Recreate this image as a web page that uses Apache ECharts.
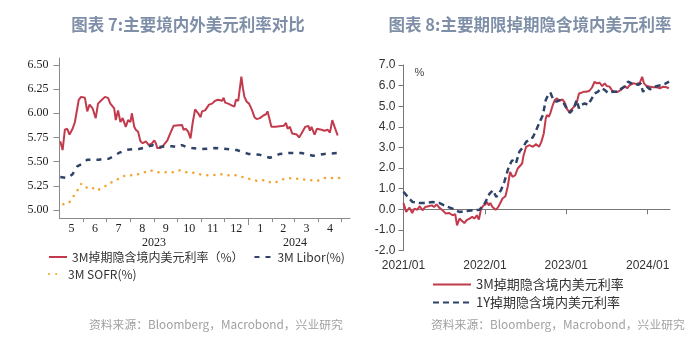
<!DOCTYPE html>
<html><head><meta charset="utf-8">
<script src="https://cdn.jsdelivr.net/npm/echarts@6/dist/echarts.min.js"></script>
<style>html,body{margin:0;padding:0;background:#fff}#c{width:700px;height:340px}</style>
</head><body><div id="c"></div>
<script>
// ---------- Left chart (图表 7) ----------
const L_MONTHS = ['2023-05','2023-06','2023-07','2023-08','2023-09','2023-10','2023-11','2023-12','2024-01','2024-02','2024-03','2024-04','2024-05'];
const L_MONTH_LABELS = ['5','6','7','8','9','10','11','12','1','2','3','4'];
const L_YEAR_LABELS = ['2023','2024'];
const L_Y_TICKS = [5.00,5.25,5.50,5.75,6.00,6.25,6.50];

const L_3M_DATES = ['2023-05-02','2023-05-05','2023-05-08','2023-05-11','2023-05-14','2023-05-18','2023-05-21','2023-05-26','2023-05-29','2023-06-03','2023-06-06','2023-06-09','2023-06-13','2023-06-17','2023-06-20','2023-06-25','2023-06-29','2023-07-03','2023-07-06','2023-07-11','2023-07-13','2023-07-16','2023-07-19','2023-07-22','2023-07-26','2023-07-29','2023-08-01','2023-08-03','2023-08-06','2023-08-08','2023-08-11','2023-08-14','2023-08-17','2023-08-21','2023-08-25','2023-08-29','2023-09-01','2023-09-03','2023-09-05','2023-09-09','2023-09-13','2023-09-18','2023-09-21','2023-09-23','2023-09-26','2023-10-07','2023-10-09','2023-10-12','2023-10-15','2023-10-18','2023-10-21','2023-10-24','2023-10-28','2023-10-31','2023-11-02','2023-11-06','2023-11-11','2023-11-15','2023-11-19','2023-11-23','2023-11-28','2023-11-30','2023-12-02','2023-12-06','2023-12-11','2023-12-14','2023-12-16','2023-12-19','2023-12-23','2023-12-25','2023-12-27','2023-12-30','2024-01-02','2024-01-06','2024-01-09','2024-01-12','2024-01-16','2024-01-21','2024-01-24','2024-01-26','2024-01-28','2024-01-31','2024-02-05','2024-02-16','2024-02-19','2024-02-21','2024-02-24','2024-02-27','2024-03-04','2024-03-07','2024-03-10','2024-03-15','2024-03-19','2024-03-21','2024-03-23','2024-03-27','2024-03-30','2024-04-05','2024-04-09','2024-04-13','2024-04-16','2024-04-19','2024-04-22','2024-04-26'];
const L_3M_VALUES = [5.71,5.62,5.83,5.84,5.78,5.84,5.91,6.14,6.17,6.16,6.02,6.09,6.05,5.95,6.10,6.14,6.17,6.16,6.10,6.05,5.93,6.03,5.91,5.95,5.86,5.93,5.91,6.00,5.86,5.83,5.81,5.71,5.69,5.71,5.67,5.69,5.72,5.69,5.64,5.64,5.67,5.72,5.78,5.76,5.87,5.88,5.83,5.84,5.81,5.74,5.91,6.04,6.00,5.96,6.02,6.03,6.09,6.10,6.13,6.14,6.13,6.16,6.11,6.10,6.08,6.07,6.14,6.13,6.38,6.26,6.17,6.12,6.10,6.03,5.96,5.94,5.95,5.98,5.99,6.02,6.00,5.86,5.86,5.87,5.90,5.84,5.86,5.79,5.78,5.75,5.79,5.86,5.87,5.82,5.86,5.78,5.84,5.83,5.82,5.83,5.80,5.93,5.86,5.77];

const L_LIBOR_DATES = ['2023-05-02','2023-05-11','2023-05-18','2023-05-24','2023-05-31','2023-06-06','2023-06-15','2023-06-21','2023-06-28','2023-07-04','2023-07-11','2023-07-17','2023-07-26','2023-08-04','2023-08-12','2023-08-21','2023-08-30','2023-09-07','2023-09-16','2023-09-24','2023-10-01','2023-10-07','2023-10-13','2023-10-20','2023-11-02','2023-11-19','2023-12-04','2023-12-17','2024-01-01','2024-01-16','2024-01-29','2024-02-11','2024-02-24','2024-03-10','2024-03-25','2024-04-09','2024-04-28'];
const L_LIBOR_VALUES = [5.34,5.33,5.37,5.45,5.48,5.52,5.52,5.52,5.53,5.53,5.56,5.59,5.62,5.63,5.63,5.65,5.67,5.65,5.66,5.66,5.65,5.67,5.65,5.64,5.63,5.64,5.63,5.62,5.58,5.57,5.54,5.58,5.59,5.59,5.56,5.58,5.59];

const L_SOFR_DATES = ['2023-05-06','2023-05-13','2023-05-19','2023-05-24','2023-05-29','2023-06-03','2023-06-11','2023-06-18','2023-06-28','2023-07-06','2023-07-16','2023-07-26','2023-08-06','2023-08-16','2023-08-26','2023-09-05','2023-09-16','2023-09-25','2023-10-04','2023-10-11','2023-10-19','2023-10-29','2023-11-07','2023-11-17','2023-11-26','2023-12-06','2023-12-15','2023-12-25','2024-01-03','2024-01-13','2024-01-24','2024-01-31','2024-02-07','2024-02-16','2024-02-26','2024-03-08','2024-03-19','2024-03-30','2024-04-09','2024-04-18','2024-04-30'];
const L_SOFR_VALUES = [5.06,5.07,5.14,5.20,5.27,5.23,5.24,5.20,5.24,5.28,5.32,5.36,5.36,5.38,5.41,5.39,5.39,5.39,5.41,5.39,5.39,5.37,5.36,5.36,5.37,5.36,5.36,5.34,5.32,5.30,5.31,5.28,5.29,5.32,5.33,5.32,5.31,5.30,5.33,5.33,5.33];

// ---------- Right chart (图表 8) ----------
const R_YEAR_TICKS = ['2021-01-01','2022-01-01','2023-01-01','2024-01-01'];
const R_YEAR_LABELS = ['2021/01','2022/01','2023/01','2024/01'];

const R_3M_DATES = ['2021-01-01','2021-01-05','2021-01-13','2021-01-28','2021-02-09','2021-02-19','2021-03-04','2021-03-15','2021-03-27','2021-04-08','2021-04-23','2021-05-08','2021-05-18','2021-05-29','2021-06-10','2021-06-25','2021-07-10','2021-07-25','2021-08-09','2021-08-21','2021-08-29','2021-09-09','2021-09-21','2021-10-01','2021-10-11','2021-10-24','2021-11-05','2021-11-15','2021-11-26','2021-12-05','2021-12-15','2021-12-26','2022-01-04','2022-01-10','2022-01-19','2022-01-25','2022-02-04','2022-02-09','2022-02-18','2022-02-28','2022-03-10','2022-03-21','2022-04-03','2022-04-13','2022-04-24','2022-05-05','2022-05-17','2022-05-28','2022-06-05','2022-06-17','2022-06-23','2022-07-05','2022-07-20','2022-08-04','2022-08-19','2022-09-01','2022-09-11','2022-09-22','2022-10-01','2022-10-06','2022-10-15','2022-10-22','2022-10-31','2022-11-10','2022-11-20','2022-12-02','2022-12-14','2022-12-25','2023-01-05','2023-01-14','2023-01-25','2023-02-04','2023-02-16','2023-02-27','2023-03-09','2023-03-19','2023-04-01','2023-04-15','2023-04-27','2023-05-08','2023-05-18','2023-05-30','2023-06-11','2023-06-22','2023-07-02','2023-07-14','2023-07-26','2023-08-06','2023-08-21','2023-09-06','2023-09-20','2023-10-01','2023-10-13','2023-10-28','2023-11-12','2023-11-27','2023-12-07','2023-12-15','2023-12-27','2024-01-11','2024-01-26','2024-02-10','2024-02-25','2024-03-10','2024-03-25','2024-04-05'];
const R_3M_VALUES = [0.30,0.28,-0.13,0.08,-0.18,0.03,-0.02,0.15,-0.05,0.11,0.15,0.19,0.11,0.24,0.08,-0.05,-0.21,-0.18,-0.29,-0.24,-0.78,-0.45,-0.57,-0.67,-0.53,-0.45,-0.37,-0.45,-0.29,-0.50,0.03,0.19,0.24,0.35,0.19,0.31,0.11,0.19,-0.02,0.08,0.28,0.52,0.63,1.08,1.81,1.57,1.65,1.98,2.06,2.22,2.60,3.03,3.11,3.03,3.16,3.03,3.27,3.68,4.41,4.57,4.49,4.68,5.01,5.30,5.38,5.26,5.33,5.17,4.85,4.73,4.85,4.97,5.14,5.62,5.65,5.70,5.70,5.75,5.92,6.19,6.11,6.14,5.98,6.11,5.98,5.95,5.75,5.70,5.70,5.82,5.98,5.87,6.03,6.11,6.08,6.14,6.43,6.11,5.98,5.95,5.92,5.92,5.87,5.95,5.92,5.87];

const R_1Y_DATES = ['2021-01-01','2021-01-05','2021-01-20','2021-02-11','2021-03-11','2021-04-11','2021-05-10','2021-06-10','2021-07-10','2021-08-09','2021-09-09','2021-10-09','2021-11-08','2021-12-08','2021-12-31','2022-01-22','2022-02-06','2022-02-21','2022-03-14','2022-03-29','2022-04-18','2022-05-03','2022-05-20','2022-06-05','2022-06-20','2022-07-05','2022-07-12','2022-07-20','2022-08-04','2022-08-19','2022-09-04','2022-09-18','2022-10-01','2022-10-11','2022-10-22','2022-11-03','2022-11-18','2022-12-02','2022-12-17','2023-01-02','2023-01-17','2023-02-04','2023-02-16','2023-02-27','2023-03-09','2023-03-24','2023-04-08','2023-04-23','2023-05-08','2023-05-22','2023-06-07','2023-06-22','2023-07-06','2023-07-29','2023-08-21','2023-09-06','2023-09-20','2023-10-05','2023-10-20','2023-11-04','2023-11-19','2023-11-30','2023-12-11','2023-12-27','2024-01-11','2024-01-26','2024-02-13','2024-03-03','2024-03-18','2024-04-06'];
const R_1Y_VALUES = [0.85,0.79,0.60,0.35,0.31,0.31,0.35,0.31,0.15,0.03,-0.13,-0.08,-0.05,-0.02,0.28,0.76,0.92,0.60,0.92,1.33,2.06,2.38,2.22,2.80,3.00,3.27,3.35,3.39,3.49,3.84,4.24,4.57,5.30,5.54,5.65,5.33,5.22,5.30,5.22,4.90,4.68,4.90,5.30,4.90,5.06,5.14,5.06,5.33,5.62,5.70,5.87,5.79,5.65,5.70,5.70,5.87,5.95,6.19,6.11,6.11,6.03,6.11,5.70,5.95,5.82,5.92,5.98,6.03,6.08,6.19];

const NAMES = {
  l3m: '3M掉期隐含境内美元利率（%）', libor: '3M Libor(%)', sofr: '3M SOFR(%)',
  r3m: '3M掉期隐含境内美元利率', r1y: '1Y掉期隐含境内美元利率'
};

function ts(s) { const p = s.split('-').map(Number); return new Date(p[0], p[1] - 1, p[2] || 1).getTime(); }
function pairs(d, v) { return d.map((x, i) => [ts(x), v[i]]); }

const monthStarts = L_MONTHS.map(ts);
const monthMids = L_MONTH_LABELS.map((_, i) => (monthStarts[i] + monthStarts[i + 1]) / 2);
const yearBoundary = ts('2024-01-01');
const yearMids = [(monthStarts[0] + yearBoundary) / 2, (yearBoundary + monthStarts[12]) / 2];
const rYearTicks = R_YEAR_TICKS.map(ts);
const labelOf = (vals, labels) => v => { let best = 0, bd = Infinity; vals.forEach((x, i) => { const d = Math.abs(x - v); if (d < bd) { bd = d; best = i; } }); return labels[best]; };

const serif = 'Liberation Serif';
const cjk = 'Noto Sans CJK SC';
const RED = '#c23a4c', NAVY = '#2f4368', ORANGE = '#f2a431';
const AX = '#8a8a8a';
const legendText = { fontFamily: cjk, fontSize: 12, color: '#333' };

const chart = echarts.init(document.getElementById('c'), null, { renderer: 'canvas' });
chart.setOption({
  animation: false,
  backgroundColor: '#fff',
  title: [
    { text: '图表 7:主要境内外美元利率对比', left: 183, top: 11, textAlign: 'center',
      textStyle: { fontFamily: cjk, fontSize: 16.5, fontWeight: 'bold', color: '#7f8fa8' } },
    { text: '图表 8:主要期限掉期隐含境内美元利率', left: 525, top: 11, textAlign: 'center',
      textStyle: { fontFamily: cjk, fontSize: 16.5, fontWeight: 'bold', color: '#7f8fa8' } },
    { text: '资料来源：Bloomberg，Macrobond，兴业研究', left: 84, top: 314,
      textStyle: { fontFamily: cjk, fontSize: 11.8, fontWeight: 'normal', color: '#a0a0a0' } },
    { text: '资料来源：Bloomberg，Macrobond，兴业研究', left: 426, top: 314,
      textStyle: { fontFamily: cjk, fontSize: 11.8, fontWeight: 'normal', color: '#a0a0a0' } }
  ],
  legend: [
    { data: [NAMES.l3m, NAMES.libor], left: 48, top: 251, padding: 0, itemWidth: 18, itemHeight: 10, itemGap: 10,
      itemStyle: { opacity: 0 }, textStyle: legendText },
    { data: [NAMES.sofr], left: 48, top: 268, padding: 0, itemWidth: 14, itemHeight: 10,
      itemStyle: { opacity: 0 }, textStyle: legendText },
    { data: [NAMES.r3m, NAMES.r1y], orient: 'vertical', left: 432, top: 278, padding: 0, itemWidth: 38, itemHeight: 12, itemGap: 5,
      itemStyle: { opacity: 0 }, textStyle: { fontFamily: cjk, fontSize: 13, color: '#333' } }
  ],
  grid: [
    { left: 59.5, width: 290.5, top: 58, height: 160 },
    { left: 403.5, width: 266.5, top: 65, height: 185.5 }
  ],
  xAxis: [
    { type: 'value', gridIndex: 0, position: 'bottom', min: ts('2023-05-01'), max: ts('2024-05-12'),
      axisLine: { show: true, onZero: false, lineStyle: { color: AX, width: 1 } },
      axisTick: { show: true, customValues: monthStarts.slice(1, 13), length: 4, lineStyle: { color: AX } },
      axisLabel: { customValues: monthMids, formatter: labelOf(monthMids, L_MONTH_LABELS), margin: 5,
        fontFamily: serif, fontSize: 12, color: '#222' },
      splitLine: { show: false } },
    { type: 'value', gridIndex: 0, position: 'bottom', min: ts('2023-05-01'), max: ts('2024-05-12'),
      axisLine: { show: false, onZero: false },
      axisTick: { show: true, customValues: [yearBoundary], length: 7, lineStyle: { color: AX } },
      axisLabel: { customValues: yearMids, formatter: labelOf(yearMids, L_YEAR_LABELS), margin: 19,
        fontFamily: serif, fontSize: 12, color: '#222' },
      splitLine: { show: false } },
    { type: 'value', gridIndex: 1, position: 'bottom', min: ts('2021-01-01'), max: ts('2024-04-10'),
      axisLine: { show: true, onZero: true, lineStyle: { color: '#777', width: 1 } },
      axisTick: { show: true, customValues: rYearTicks, length: 5, lineStyle: { color: '#777' } },
      axisLabel: { show: false },
      splitLine: { show: false } },
    { type: 'value', gridIndex: 1, position: 'bottom', min: ts('2021-01-01'), max: ts('2024-04-10'),
      axisLine: { show: false, onZero: false },
      axisTick: { show: false },
      axisLabel: { customValues: rYearTicks, formatter: labelOf(rYearTicks, R_YEAR_LABELS),
        margin: 9, fontFamily: 'Liberation Sans', fontSize: 12, color: '#333' },
      splitLine: { show: false } }
  ],
  yAxis: [
    { type: 'value', gridIndex: 0, min: 4.917, max: 6.572,
      axisLine: { show: true, lineStyle: { color: AX, width: 1 } },
      axisTick: { show: true, customValues: L_Y_TICKS, length: 6, lineStyle: { color: AX } },
      axisLabel: { customValues: L_Y_TICKS, formatter: v => v.toFixed(2), margin: 11,
        fontFamily: serif, fontSize: 12, color: '#222' },
      splitLine: { show: false } },
    { type: 'value', gridIndex: 1, min: -2, max: 7, interval: 1,
      name: '%', nameLocation: 'end', nameGap: -8,
      nameTextStyle: { fontFamily: 'Liberation Sans', fontSize: 11, color: '#444', align: 'left', verticalAlign: 'middle', padding: [0, 0, 0, 11] },
      axisLine: { show: true, onZero: false, lineStyle: { color: '#777', width: 1 } },
      axisTick: { show: true, length: 5, lineStyle: { color: '#777' } },
      axisLabel: { formatter: v => v.toFixed(1), margin: 8, fontFamily: 'Liberation Sans', fontSize: 12, color: '#333' },
      splitLine: { show: false } }
  ],
  series: [
    { name: NAMES.l3m, type: 'line', xAxisIndex: 0, yAxisIndex: 0, data: pairs(L_3M_DATES, L_3M_VALUES),
      showSymbol: false, symbol: 'none', lineStyle: { color: RED, width: 2 }, itemStyle: { color: RED } },
    { name: NAMES.libor, type: 'line', xAxisIndex: 0, yAxisIndex: 0, data: pairs(L_LIBOR_DATES, L_LIBOR_VALUES),
      showSymbol: false, symbol: 'none', lineStyle: { color: NAVY, width: 2.5, type: [5, 6] }, itemStyle: { color: NAVY } },
    { name: NAMES.sofr, type: 'line', xAxisIndex: 0, yAxisIndex: 0, data: pairs(L_SOFR_DATES, L_SOFR_VALUES),
      showSymbol: false, symbol: 'none', lineStyle: { color: ORANGE, width: 2.5, type: [0.1, 7], cap: 'round' }, itemStyle: { color: ORANGE } },
    { name: NAMES.r3m, type: 'line', xAxisIndex: 2, yAxisIndex: 1, data: pairs(R_3M_DATES, R_3M_VALUES),
      showSymbol: false, symbol: 'none', lineStyle: { color: RED, width: 2 }, itemStyle: { color: RED } },
    { name: NAMES.r1y, type: 'line', xAxisIndex: 2, yAxisIndex: 1, data: pairs(R_1Y_DATES, R_1Y_VALUES),
      showSymbol: false, symbol: 'none', lineStyle: { color: NAVY, width: 2.5, type: [6, 4] }, itemStyle: { color: NAVY } }
  ]
});
</script></body></html>
